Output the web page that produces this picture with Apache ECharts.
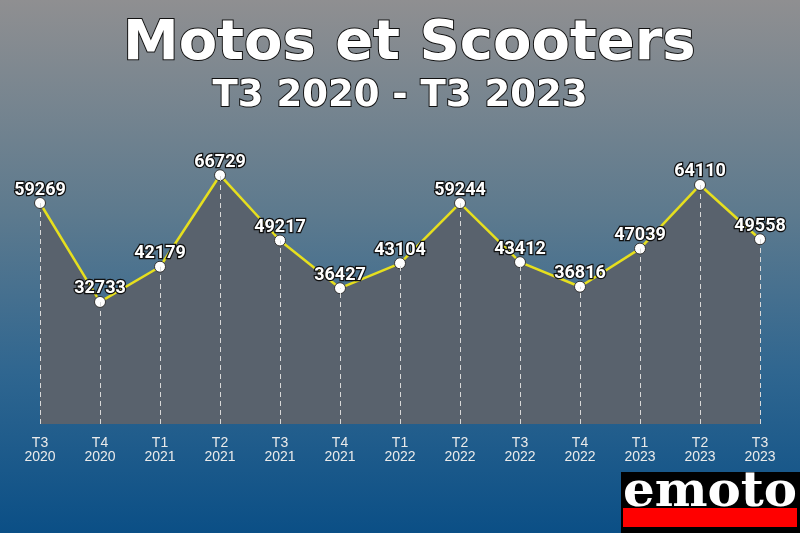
<!DOCTYPE html>
<html>
<head>
<meta charset="utf-8">
<script src="https://cdn.jsdelivr.net/npm/echarts@6/dist/echarts.min.js"></script>
<style>html,body{margin:0;padding:0;}#c{width:800px;height:533px;}</style>
</head>
<body>
<div id="c"></div>
<script>
const categories = ['T3\n2020','T4\n2020','T1\n2021','T2\n2021','T3\n2021','T4\n2021','T1\n2022','T2\n2022','T3\n2022','T4\n2022','T1\n2023','T2\n2023','T3\n2023'];
const values = [59269,32733,42179,66729,49217,36427,43104,59244,43412,36816,47039,64110,49558];
const titleText = 'Motos et Scooters';
const subtitleText = 'T3 2020 - T3 2023';

const chart = echarts.init(document.getElementById('c'));
const dropLines = values.map((v, i) => [{coord: [i, 0]}, {coord: [i, v]}]);
chart.setOption({
  animation: false,
  backgroundColor: {
    type: 'linear', x: 0, y: 0, x2: 0, y2: 1,
    colorStops: [
      {offset: 0, color: '#8f8f91'},
      {offset: 0.4, color: '#5d7a8e'},
      {offset: 0.7, color: '#2f6690'},
      {offset: 1, color: '#0b4f86'}
    ]
  },
  title: [
    {text: titleText, left: 118, top: 11,
     textStyle: {fontFamily: 'DejaVu Sans', fontWeight: 'bold', fontSize: 56, color: '#fff', textBorderColor: '#111', textBorderWidth: 2}},
    {text: subtitleText, left: 'center', top: 73,
     textStyle: {fontFamily: 'DejaVu Sans', fontWeight: 'bold', fontSize: 37, color: '#fff', textBorderColor: '#111', textBorderWidth: 2}}
  ],
  grid: {left: 40, right: 40, top: 163, bottom: 109, containLabel: false},
  xAxis: {
    type: 'category', data: categories, boundaryGap: false,
    axisLine: {show: false}, axisTick: {show: false}, splitLine: {show: false},
    axisLabel: {color: '#ebebeb', fontFamily: 'Liberation Sans', fontSize: 14, lineHeight: 14, margin: 12}
  },
  yAxis: {
    type: 'value', min: 0, max: 70000, show: false, splitLine: {show: false}
  },
  series: [{
    type: 'line', data: values,
    lineStyle: {color: '#e6df1e', width: 2.5},
    areaStyle: {color: '#59626d', opacity: 1},
    symbol: 'circle', symbolSize: 11,
    itemStyle: {color: '#ffffff', borderColor: '#333', borderWidth: 1},
    label: {show: true, position: 'top', distance: -2, color: '#fff', fontFamily: 'Roboto', fontWeight: 'bold', fontSize: 18, textBorderColor: '#111', textBorderWidth: 2.5},
    markLine: {
      silent: true, symbol: 'none', label: {show: false},
      lineStyle: {color: '#d8d8d8', type: [5, 4], width: 1},
      data: dropLines
    },
    z: 3
  }],
  graphic: [
    {type: 'rect', shape: {x: 621, y: 472, width: 179, height: 61}, style: {fill: '#000'}},
    {type: 'rect', shape: {x: 623, y: 508, width: 174, height: 19}, style: {fill: '#ff0000'}},
    {type: 'text', x: 710, y: 518, scaleX: 1.04, style: {text: 'emoto', fill: '#fff', font: 'bold 48px "DejaVu Serif"', textAlign: 'center', textVerticalAlign: 'bottom'}}
  ]
});
</script>
</body>
</html>
